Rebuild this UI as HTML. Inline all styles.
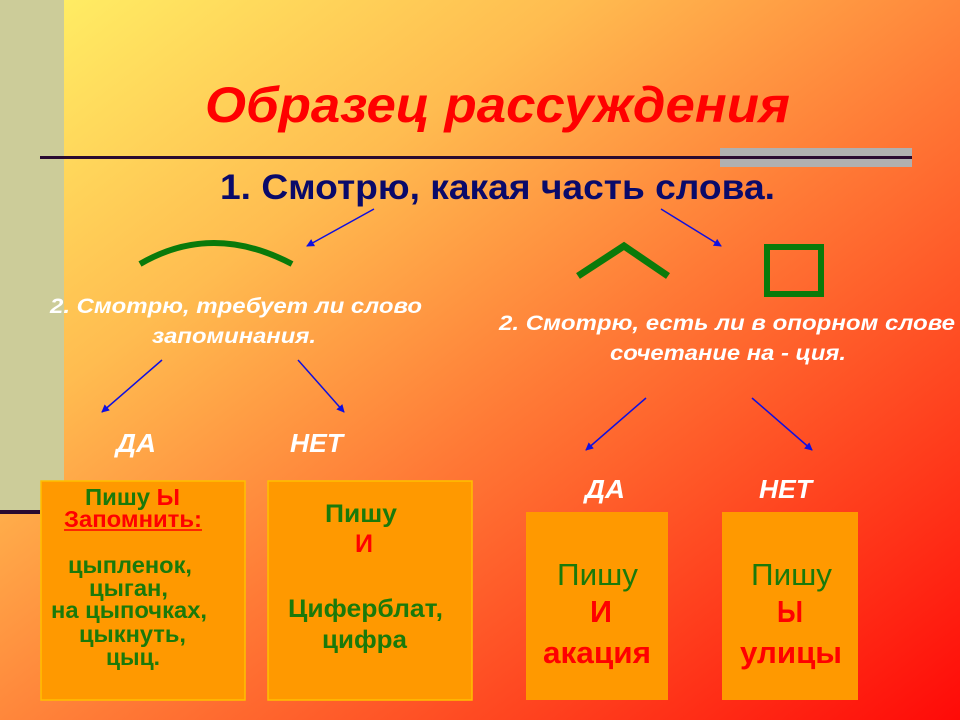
<!DOCTYPE html>
<html><head><meta charset="utf-8"><style>
html,body{margin:0;padding:0;width:960px;height:720px;overflow:hidden}
svg{display:block}
text{font-family:"Liberation Sans","DejaVu Sans",sans-serif}
.b{font-weight:bold}
.n{font-weight:normal}
</style></head><body>
<svg width="960" height="720" viewBox="0 0 960 720" xmlns="http://www.w3.org/2000/svg">
<defs>
<linearGradient id="bg" x1="0" y1="0" x2="1" y2="1">
<stop offset="0" stop-color="#fff266"/>
<stop offset="0.3" stop-color="#ffbc50"/>
<stop offset="0.55" stop-color="#ff7a36"/>
<stop offset="0.8" stop-color="#ff3c1c"/>
<stop offset="1" stop-color="#ff0a08"/>
</linearGradient>
<marker id="ah" markerWidth="8" markerHeight="8" refX="7" refY="4" orient="auto" markerUnits="userSpaceOnUse">
<path d="M0,0 L8,4 L0,8 z" fill="#1010e0"/>
</marker>
</defs>
<rect width="960" height="720" fill="url(#bg)"/>
<rect x="0" y="0" width="64" height="510" fill="#cccc99"/>
<rect x="0" y="510" width="40" height="4" fill="#2a0a30"/>
<rect x="720" y="148" width="192" height="19" fill="#b0b0b0"/>
<rect x="40" y="156" width="872" height="3" fill="#2a0a30"/>

<text class="b" x="205" y="122" font-size="50" font-style="italic" fill="#ff0000" textLength="585" lengthAdjust="spacingAndGlyphs">Образец рассуждения</text>
<text class="b" x="220" y="199" font-size="35" fill="#0a0a6a" textLength="555" lengthAdjust="spacingAndGlyphs">1. Смотрю, какая часть слова.</text>

<g stroke="#1010e0" stroke-width="1.5" marker-end="url(#ah)">
<line x1="374" y1="209" x2="307" y2="246"/>
<line x1="661" y1="209" x2="721" y2="246"/>
<line x1="162" y1="360" x2="102" y2="412"/>
<line x1="298" y1="360" x2="344" y2="412"/>
<line x1="646" y1="398" x2="586" y2="450"/>
<line x1="752" y1="398" x2="812" y2="450"/>
</g>

<path d="M140,264 Q212,222 292,264" fill="none" stroke="#0a7a0a" stroke-width="6"/>
<polyline points="578,276 624,246 668,276" fill="none" stroke="#0a7a0a" stroke-width="7"/>
<rect x="767" y="247" width="54" height="47" fill="none" stroke="#0a7a0a" stroke-width="6"/>

<g fill="#fff" font-style="italic" font-size="21">
<text class="b" x="50" y="313" textLength="372" lengthAdjust="spacingAndGlyphs">2. Смотрю, требует ли слово</text>
<text class="b" x="152" y="343" textLength="164" lengthAdjust="spacingAndGlyphs">запоминания.</text>
<text class="b" x="499" y="330" textLength="456" lengthAdjust="spacingAndGlyphs">2. Смотрю, есть ли в опорном слове</text>
<text class="b" x="610" y="360" textLength="236" lengthAdjust="spacingAndGlyphs">сочетание на - ция.</text>
<text class="b" x="116" y="452" font-size="26" textLength="40" lengthAdjust="spacingAndGlyphs">ДА</text>
<text class="b" x="290" y="452" font-size="26" textLength="53" lengthAdjust="spacingAndGlyphs">НЕТ</text>
<text class="b" x="585" y="498" font-size="26" textLength="40" lengthAdjust="spacingAndGlyphs">ДА</text>
<text class="b" x="759" y="498" font-size="26" textLength="53" lengthAdjust="spacingAndGlyphs">НЕТ</text>
</g>

<g fill="#ff9900" stroke="#ffc000" stroke-width="1.5">
<rect x="41" y="481" width="204" height="219"/>
<rect x="268" y="481" width="204" height="219"/>
<rect x="526" y="512" width="142" height="188" stroke="none"/>
<rect x="722" y="512" width="136" height="188" stroke="none"/>
</g>

<g font-size="23" fill="#1a7a0a">
<text class="b" x="85" y="505" textLength="95" lengthAdjust="spacingAndGlyphs">Пишу <tspan fill="#ff0000">Ы</tspan></text>
<text class="b" x="64" y="527" fill="#ff0000" textLength="138" lengthAdjust="spacingAndGlyphs">Запомнить:</text>
<line x1="64" y1="530" x2="202" y2="530" stroke="#ff0000" stroke-width="1.5"/>
<text class="b" x="68" y="573" textLength="124" lengthAdjust="spacingAndGlyphs">цыпленок,</text>
<text class="b" x="89" y="596" textLength="79" lengthAdjust="spacingAndGlyphs">цыган,</text>
<text class="b" x="51" y="618" textLength="156" lengthAdjust="spacingAndGlyphs">на цыпочках,</text>
<text class="b" x="79" y="642" textLength="107" lengthAdjust="spacingAndGlyphs">цыкнуть,</text>
<text class="b" x="106" y="665" textLength="54" lengthAdjust="spacingAndGlyphs">цыц.</text>
<text class="b" x="325" y="522" font-size="25" textLength="72" lengthAdjust="spacingAndGlyphs">Пишу</text>
<text class="b" x="355" y="552" font-size="25" fill="#ff0000" textLength="18" lengthAdjust="spacingAndGlyphs">И</text>
<text class="b" x="288" y="617" font-size="25" textLength="155" lengthAdjust="spacingAndGlyphs">Циферблат,</text>
<text class="b" x="322" y="648" font-size="25" textLength="85" lengthAdjust="spacingAndGlyphs">цифра</text>
</g>
<g font-size="31">
<text class="n" x="557" y="585" fill="#1a7a0a" textLength="81" lengthAdjust="spacingAndGlyphs">Пишу</text>
<text class="b" x="590" y="622" fill="#ff0000" textLength="22" lengthAdjust="spacingAndGlyphs">И</text>
<text class="b" x="543" y="663" fill="#ff0000" textLength="108" lengthAdjust="spacingAndGlyphs">акация</text>
<text class="n" x="751" y="585" fill="#1a7a0a" textLength="81" lengthAdjust="spacingAndGlyphs">Пишу</text>
<text class="b" x="777" y="622" fill="#ff0000" textLength="26" lengthAdjust="spacingAndGlyphs">Ы</text>
<text class="b" x="740" y="663" fill="#ff0000" textLength="102" lengthAdjust="spacingAndGlyphs">улицы</text>
</g>
</svg>
</body></html>
